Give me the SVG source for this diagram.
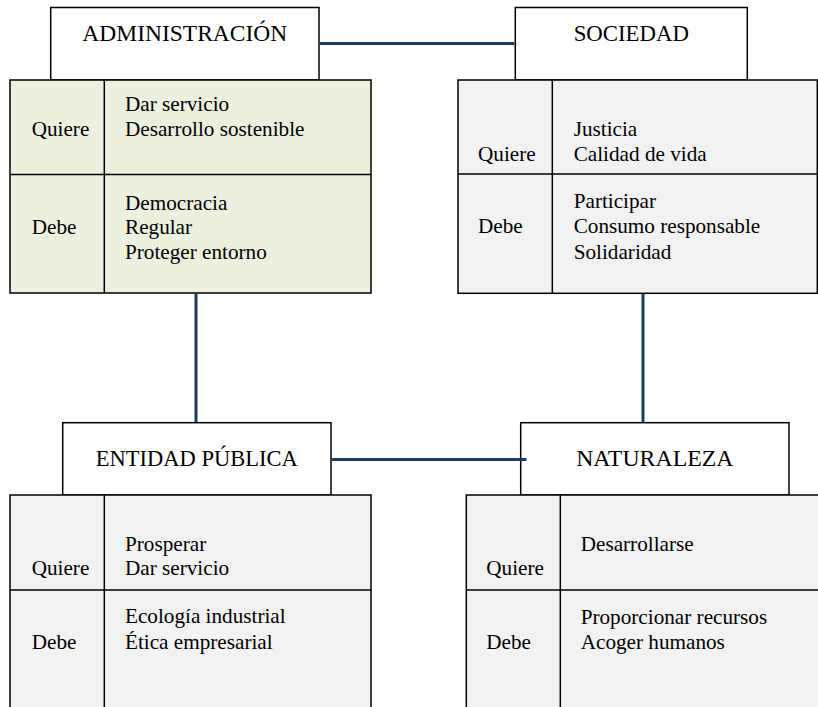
<svg xmlns="http://www.w3.org/2000/svg" width="818" height="707" viewBox="0 0 818 707">
<style>
.title{fill:#ffffff;stroke:#000;stroke-width:1.5}
.tbl{stroke:#000;stroke-width:1.5}
.green{fill:#EBF1DE}
.grey{fill:#F2F2F2}
.div{stroke:#000;stroke-width:1.5;fill:none}
.conn{stroke:#1F3A63;stroke-width:3;fill:none}
.tx{font-family:'Liberation Serif','Times New Roman',serif;fill:#000}
.tt{font-size:23px;text-anchor:middle}
.bt{font-size:21.2px}
</style>
<rect width="818" height="707" fill="#ffffff"/>
<g id="administracion">
<rect class="title" x="50.7" y="7.5" width="268.3" height="72.5"/>
<rect class="tbl green" x="10" y="80" width="361" height="213"/>
<line class="div" x1="104.3" y1="80" x2="104.3" y2="293"/>
<line class="div" x1="10" y1="174.5" x2="371" y2="174.5"/>
<g class="tx">
<text class="tt" x="184.8" y="41" style="font-size:23.5px">ADMINISTRACIÓN</text>
<text class="bt" x="31.7" y="136">Quiere</text>
<text class="bt" x="125" y="111">Dar servicio</text>
<text class="bt" x="125" y="135.5">Desarrollo sostenible</text>
<text class="bt" x="31.7" y="234">Debe</text>
<text class="bt" x="125" y="209.5">Democracia</text>
<text class="bt" x="125" y="234">Regular</text>
<text class="bt" x="125" y="258.5">Proteger entorno</text>
</g>
</g>
<g id="sociedad">
<rect class="title" x="515.3" y="7.5" width="232" height="72.5"/>
<rect class="tbl grey" x="458" y="80" width="359.3" height="213.3"/>
<line class="div" x1="552.3" y1="80" x2="552.3" y2="293.3"/>
<line class="div" x1="458" y1="174" x2="817.3" y2="174"/>
<g class="tx">
<text class="tt" x="631.3" y="41" style="font-size:22.8px">SOCIEDAD</text>
<text class="bt" x="478" y="161">Quiere</text>
<text class="bt" x="573.7" y="136">Justicia</text>
<text class="bt" x="573.7" y="161">Calidad de vida</text>
<text class="bt" x="478" y="232.7">Debe</text>
<text class="bt" x="573.7" y="208">Participar</text>
<text class="bt" x="573.7" y="232.7">Consumo responsable</text>
<text class="bt" x="573.7" y="259">Solidaridad</text>
</g>
</g>
<g id="entidad-publica">
<rect class="title" x="62.7" y="422.7" width="268.3" height="72.3"/>
<rect class="tbl grey" x="10" y="495" width="361" height="230"/>
<line class="div" x1="104.3" y1="495" x2="104.3" y2="725"/>
<line class="div" x1="10" y1="590" x2="371" y2="590"/>
<g class="tx">
<text class="tt" x="196.8" y="465.5" style="font-size:22.5px">ENTIDAD PÚBLICA</text>
<text class="bt" x="31.7" y="574.5">Quiere</text>
<text class="bt" x="125" y="551">Prosperar</text>
<text class="bt" x="125" y="574.5">Dar servicio</text>
<text class="bt" x="31.7" y="649.3">Debe</text>
<text class="bt" x="125" y="623">Ecología industrial</text>
<text class="bt" x="125" y="649.3">Ética empresarial</text>
</g>
</g>
<g id="naturaleza">
<rect class="title" x="520.7" y="422.7" width="268.3" height="72.3"/>
<rect class="tbl grey" x="466.3" y="495" width="380" height="230"/>
<line class="div" x1="560.3" y1="495" x2="560.3" y2="725"/>
<line class="div" x1="466.3" y1="590" x2="846" y2="590"/>
<g class="tx">
<text class="tt" x="654.8" y="465.5" style="font-size:23.8px">NATURALEZA</text>
<text class="bt" x="486.3" y="575">Quiere</text>
<text class="bt" x="580.7" y="551">Desarrollarse</text>
<text class="bt" x="486.3" y="649.3">Debe</text>
<text class="bt" x="580.7" y="624.3">Proporcionar recursos</text>
<text class="bt" x="580.7" y="649.3">Acoger humanos</text>
</g>
</g>
<g id="connectors">
<line class="conn" x1="319.75" y1="43.5" x2="514.5" y2="43.5"/>
<line class="conn" x1="196" y1="293.75" x2="196" y2="422"/>
<line class="conn" x1="643" y1="294" x2="643" y2="422"/>
<line class="conn" x1="331.75" y1="459.5" x2="526.5" y2="459.5"/>
</g>
</svg>
